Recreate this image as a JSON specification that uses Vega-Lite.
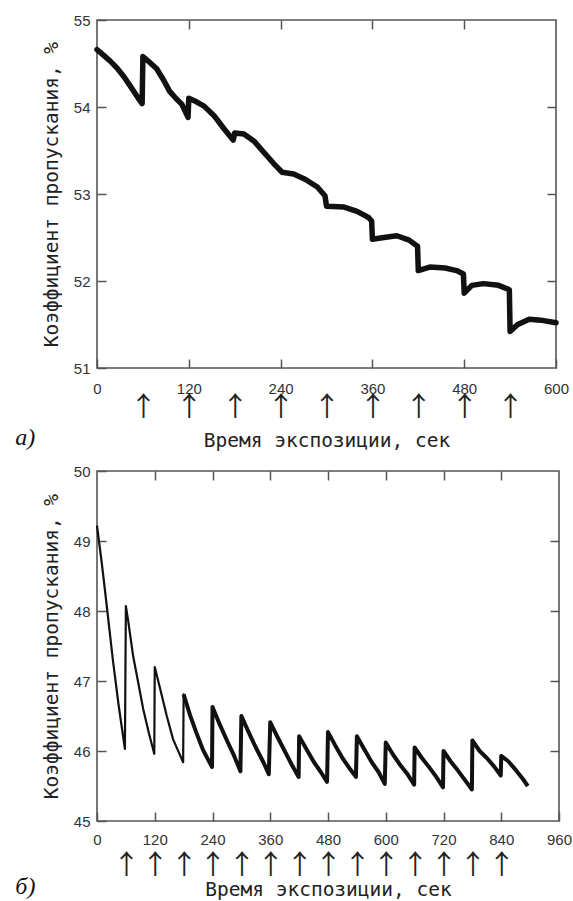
{
  "$schema": "https://vega.github.io/schema/vega-lite/v6.json",
  "background": "white",
  "padding": {"left": 14, "top": 12, "right": 0, "bottom": 0},
  "spacing": 12,
  "config": {
    "view": {"stroke": "#555", "strokeWidth": 1.6},
    "axis": {
      "domain": false, "grid": false,
      "tickColor": "#555", "tickWidth": 1.5,
      "labelFont": "Liberation Sans", "labelFontSize": 15, "labelColor": "#333", "labelFlush": false,
      "titleFont": "DejaVu Sans Mono", "titleFontSize": 19.5, "titleFontWeight": "normal", "titleColor": "#222"
    },
    "title": {"font": "Liberation Serif", "fontStyle": "italic", "fontSize": 24, "fontWeight": "normal", "color": "#111"}
  },
  "datasets": {
    "a": [
      {"t": 0, "v": 54.66}, {"t": 8, "v": 54.6}, {"t": 17, "v": 54.53}, {"t": 26, "v": 54.45}, {"t": 35, "v": 54.35}, {"t": 42, "v": 54.26}, {"t": 48, "v": 54.18}, {"t": 54, "v": 54.1}, {"t": 59, "v": 54.04},
      {"t": 60, "v": 54.58}, {"t": 68, "v": 54.52}, {"t": 78, "v": 54.44}, {"t": 87, "v": 54.31}, {"t": 95, "v": 54.18}, {"t": 103, "v": 54.1}, {"t": 111, "v": 54.03}, {"t": 119, "v": 53.88},
      {"t": 120, "v": 54.1}, {"t": 130, "v": 54.06}, {"t": 140, "v": 54.01}, {"t": 153, "v": 53.9}, {"t": 166, "v": 53.75}, {"t": 178, "v": 53.62},
      {"t": 180, "v": 53.7}, {"t": 192, "v": 53.69}, {"t": 205, "v": 53.61}, {"t": 218, "v": 53.48}, {"t": 231, "v": 53.35}, {"t": 242, "v": 53.25},
      {"t": 257, "v": 53.23}, {"t": 272, "v": 53.17}, {"t": 288, "v": 53.08}, {"t": 298, "v": 52.98},
      {"t": 300, "v": 52.86}, {"t": 323, "v": 52.85}, {"t": 340, "v": 52.8}, {"t": 355, "v": 52.73}, {"t": 359, "v": 52.69},
      {"t": 360, "v": 52.48}, {"t": 375, "v": 52.5}, {"t": 392, "v": 52.52}, {"t": 408, "v": 52.47}, {"t": 419, "v": 52.4},
      {"t": 420, "v": 52.12}, {"t": 435, "v": 52.16}, {"t": 455, "v": 52.15}, {"t": 470, "v": 52.12}, {"t": 479, "v": 52.08},
      {"t": 480, "v": 51.86}, {"t": 490, "v": 51.95}, {"t": 505, "v": 51.97}, {"t": 525, "v": 51.95}, {"t": 539, "v": 51.9},
      {"t": 540, "v": 51.42}, {"t": 550, "v": 51.5}, {"t": 565, "v": 51.56}, {"t": 580, "v": 51.55}, {"t": 600, "v": 51.52}
    ],
    "b": [
      {"t": 0, "v": 49.22}, {"t": 5, "v": 48.95}, {"t": 10, "v": 48.68}, {"t": 19, "v": 48.15}, {"t": 33, "v": 47.3}, {"t": 45, "v": 46.65}, {"t": 58, "v": 46.03},
      {"t": 60, "v": 48.07}, {"t": 65, "v": 47.85}, {"t": 75, "v": 47.36}, {"t": 85, "v": 47.0}, {"t": 96, "v": 46.6}, {"t": 108, "v": 46.25}, {"t": 119, "v": 45.96},
      {"t": 120, "v": 47.2}, {"t": 133, "v": 46.84}, {"t": 145, "v": 46.5}, {"t": 158, "v": 46.17}, {"t": 170, "v": 45.98}, {"t": 179, "v": 45.84},
      {"t": 180, "v": 46.81}, {"t": 193, "v": 46.52}, {"t": 206, "v": 46.27}, {"t": 220, "v": 46.02}, {"t": 239, "v": 45.77},
      {"t": 240, "v": 46.63}, {"t": 255, "v": 46.38}, {"t": 270, "v": 46.15}, {"t": 285, "v": 45.93}, {"t": 298, "v": 45.71},
      {"t": 300, "v": 46.5}, {"t": 315, "v": 46.27}, {"t": 330, "v": 46.05}, {"t": 345, "v": 45.85}, {"t": 357, "v": 45.67},
      {"t": 360, "v": 46.41}, {"t": 375, "v": 46.2}, {"t": 390, "v": 46.0}, {"t": 405, "v": 45.8}, {"t": 419, "v": 45.63},
      {"t": 420, "v": 46.21}, {"t": 435, "v": 46.03}, {"t": 450, "v": 45.85}, {"t": 465, "v": 45.7}, {"t": 478, "v": 45.56},
      {"t": 480, "v": 46.27}, {"t": 495, "v": 46.08}, {"t": 510, "v": 45.9}, {"t": 525, "v": 45.75}, {"t": 538, "v": 45.63},
      {"t": 540, "v": 46.21}, {"t": 555, "v": 46.03}, {"t": 570, "v": 45.85}, {"t": 585, "v": 45.7}, {"t": 598, "v": 45.53},
      {"t": 600, "v": 46.12}, {"t": 615, "v": 45.95}, {"t": 630, "v": 45.8}, {"t": 645, "v": 45.67}, {"t": 659, "v": 45.52},
      {"t": 660, "v": 46.05}, {"t": 675, "v": 45.9}, {"t": 690, "v": 45.77}, {"t": 705, "v": 45.63}, {"t": 719, "v": 45.48},
      {"t": 720, "v": 46.0}, {"t": 735, "v": 45.85}, {"t": 750, "v": 45.72}, {"t": 765, "v": 45.58}, {"t": 779, "v": 45.45},
      {"t": 780, "v": 46.15}, {"t": 795, "v": 46.0}, {"t": 810, "v": 45.9}, {"t": 825, "v": 45.78}, {"t": 839, "v": 45.65},
      {"t": 840, "v": 45.93}, {"t": 855, "v": 45.85}, {"t": 870, "v": 45.73}, {"t": 885, "v": 45.6}, {"t": 895, "v": 45.5}
    ]
  },
  "vconcat": [
    {
      "width": 459, "height": 348,
      "title": {"text": "a)", "orient": "bottom", "anchor": "start", "dx": -26, "offset": -24},
      "resolve": {"axis": {"x": "independent", "y": "independent"}},
      "layer": [
        {
          "data": {"name": "a"},
          "mark": {"type": "line", "color": "#111", "strokeWidth": 5.5, "strokeJoin": "round", "strokeCap": "round"},
          "encoding": {
            "x": {"field": "t", "type": "quantitative", "scale": {"domain": [0, 600], "nice": false, "zero": false},
                  "axis": {"orient": "bottom", "values": [0, 120, 240, 360, 480, 600], "tickSize": -9, "labelPadding": 22, "title": null}},
            "y": {"field": "v", "type": "quantitative", "scale": {"domain": [51, 55], "nice": false, "zero": false},
                  "axis": {"orient": "left", "values": [51, 52, 53, 54, 55], "tickSize": -9, "labelPadding": 16, "title": "Коэффициент пропускания, %", "titlePadding": 12}}
          }
        },
        {
          "data": {"values": []},
          "mark": "point",
          "encoding": {
            "x": {"field": "t", "type": "quantitative", "axis": {"orient": "top", "values": [120, 240, 360, 480], "tickSize": -9, "labels": false, "title": null}},
            "y": {"field": "v", "type": "quantitative", "axis": {"orient": "right", "values": [52, 53, 54], "tickSize": -9, "labels": false, "title": null}}
          }
        },
        {
          "data": {"values": []},
          "mark": "point",
          "encoding": {
            "x": {"field": "t", "type": "quantitative",
                  "axis": {"orient": "bottom", "offset": 26, "values": [60, 120, 180, 240, 300, 360, 420, 480, 540], "ticks": false, "labelExpr": "'↑'", "labelFont": "Noto Sans CJK SC", "labelFontSize": 27, "labelColor": "#222", "labelOverlap": false, "labelPadding": 0, "title": "Время экспозиции, сек", "titlePadding": 11}}
          }
        }
      ]
    },
    {
      "width": 462, "height": 350,
      "title": {"text": "б)", "orient": "bottom", "anchor": "start", "dx": -26, "offset": -24},
      "resolve": {"axis": {"x": "independent", "y": "independent"}},
      "layer": [
        {
          "data": {"name": "b"},
          "mark": {"type": "line", "color": "#111", "strokeWidth": 2.2, "strokeJoin": "round"},
          "encoding": {
            "x": {"field": "t", "type": "quantitative", "scale": {"domain": [0, 960], "nice": false, "zero": false},
                  "axis": {"orient": "bottom", "values": [0, 120, 240, 360, 480, 600, 720, 840, 960], "tickSize": -9, "labelPadding": 20, "title": null}},
            "y": {"field": "v", "type": "quantitative", "scale": {"domain": [45, 50], "nice": false, "zero": false},
                  "axis": {"orient": "left", "values": [45, 46, 47, 48, 49, 50], "tickSize": -9, "labelPadding": 16, "title": "Коэффициент пропускания, %", "titlePadding": 12}}
          }
        },
        {
          "data": {"name": "b"},
          "transform": [{"filter": "datum.t >= 180"}],
          "mark": {"type": "line", "color": "#111", "strokeWidth": 4, "strokeJoin": "round"},
          "encoding": {
            "x": {"field": "t", "type": "quantitative", "axis": {"orient": "top", "values": [120, 240, 360, 480, 600, 720, 840], "tickSize": -9, "labels": false, "title": null}},
            "y": {"field": "v", "type": "quantitative", "axis": {"orient": "right", "values": [46, 47, 48, 49], "tickSize": -9, "labels": false, "title": null}}
          }
        },
        {
          "data": {"values": []},
          "mark": "point",
          "encoding": {
            "x": {"field": "t", "type": "quantitative",
                  "axis": {"orient": "bottom", "offset": 31, "values": [60, 120, 180, 240, 300, 360, 420, 480, 540, 600, 660, 720, 780, 840], "ticks": false, "labelExpr": "'↑'", "labelFont": "Noto Sans CJK SC", "labelFontSize": 27, "labelColor": "#222", "labelOverlap": false, "labelPadding": 0, "title": "Время экспозиции, сек", "titlePadding": 2}}
          }
        }
      ]
    }
  ]
}
